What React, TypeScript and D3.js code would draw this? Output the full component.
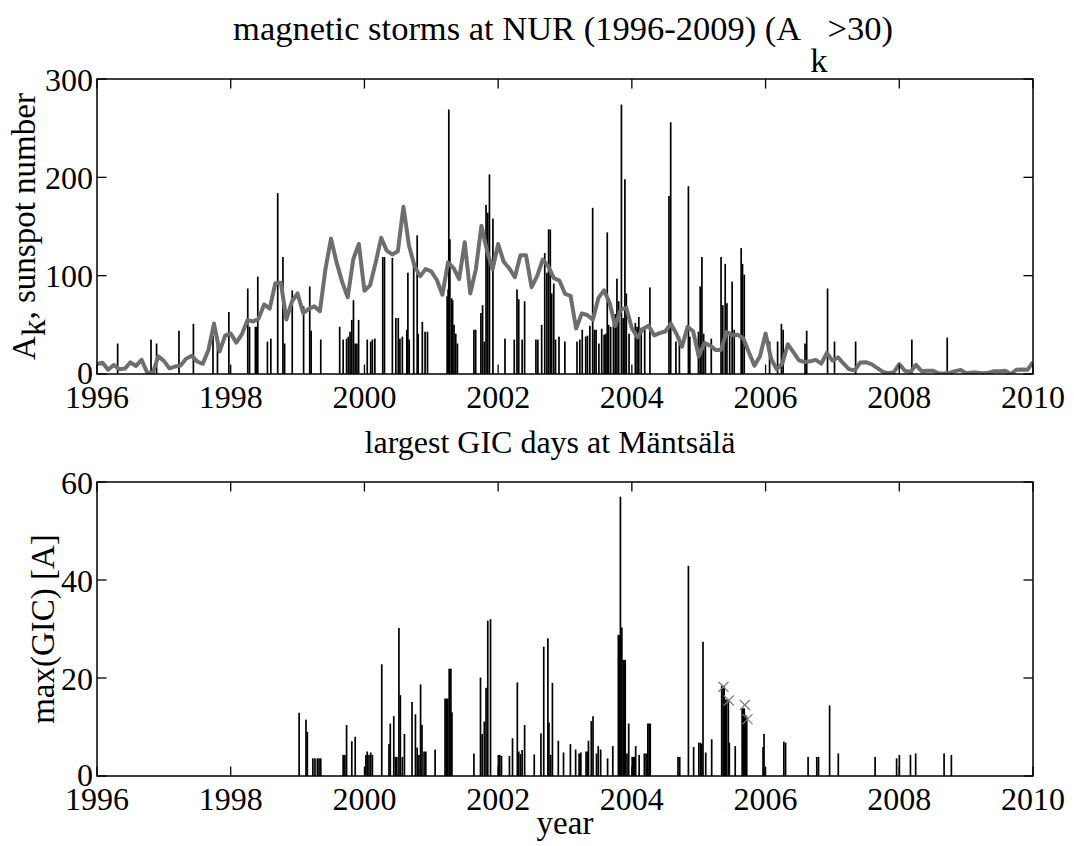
import React from "react";
import * as d3 from "d3";

const xTicks = [1996, 1998, 2000, 2002, 2004, 2006, 2008, 2010];
const akTicks = [0, 100, 200, 300];
const gicTicks = [0, 20, 40, 60];

// monthly sunspot number, first value (Dec 1995) plotted at 1996.0, one step per month
const sunspotStart = 1996;
const sunspotMonthly = [
  10.1,
  11.5, 4.4, 9.2, 4.8, 5.5, 11.8, 8.2, 14.4, 1.6, 0.9, 17.9, 13.3,
  5.7, 7.6, 8.7, 15.5, 18.5, 12.7, 10.4, 24.4, 51.3, 22.8, 39.0, 41.2,
  31.9, 40.3, 54.8, 53.4, 56.3, 70.7, 66.6, 92.2, 92.9, 55.5, 74.0, 81.9,
  62.0, 66.3, 68.8, 63.7, 106.4, 137.7, 113.5, 93.7, 78.0, 116.7, 132.2, 84.6,
  90.1, 112.9, 138.5, 125.5, 121.6, 124.9, 170.1, 130.5, 109.7, 99.4, 106.8, 104.4,
  95.6, 80.6, 113.5, 107.7, 96.6, 134.0, 81.8, 106.4, 150.7, 125.5, 106.5, 132.2,
  114.1, 107.4, 98.4, 120.7, 120.8, 88.3, 99.6, 116.4, 109.6, 97.5, 95.0, 81.6,
  79.5, 46.2, 61.5, 60.0, 55.2, 77.4, 85.0, 72.7, 48.8, 65.5, 67.3, 46.5,
  37.3, 45.8, 49.1, 39.3, 41.5, 43.2, 51.1, 40.9, 27.7, 48.0, 43.5, 17.9,
  31.3, 29.2, 24.5, 24.4, 42.6, 39.6, 39.9, 36.4, 22.1, 8.5, 18.0, 41.2,
  15.3, 4.9, 10.6, 30.2, 22.3, 13.9, 12.2, 12.9, 14.4, 10.5, 21.4, 13.6,
  16.9, 10.6, 4.8, 3.7, 11.7, 12.0, 10.0, 6.2, 2.4, 0.9, 1.7, 10.1,
  3.3, 2.1, 9.3, 2.9, 3.2, 3.4, 0.8, 0.5, 1.1, 2.9, 4.1, 0.8,
  1.5, 1.4, 0.7, 1.2, 2.9, 2.9, 3.2, 0.0, 4.2, 4.6, 4.2, 12.0,
];

// storm days (decimal year) and their Ak index
const stormDates = [
  1996.309, 1996.808, 1996.891, 1997.226, 1997.442, 1997.735, 1997.802, 1997.972,
  1998.255, 1998.281, 1998.369, 1998.384, 1998.405, 1998.549, 1998.6, 1998.703,
  1998.781, 1998.806, 1998.92, 1999.09, 1999.182, 1999.203, 1999.347,
  1999.63, 1999.682, 1999.733, 1999.759, 1999.785, 1999.811, 1999.836, 1999.862,
  1999.888, 1999.913, 2000.042, 2000.094, 2000.119, 2000.156, 2000.274, 2000.3,
  2000.418, 2000.47, 2000.506, 2000.531, 2000.567, 2000.634, 2000.65, 2000.67,
  2000.737, 2000.789, 2000.804, 2000.866, 2000.907, 2000.943,
  2001.237, 2001.252, 2001.262, 2001.278, 2001.304, 2001.319, 2001.34, 2001.366, 2001.391,
  2001.638, 2001.664, 2001.742, 2001.767, 2001.793, 2001.819, 2001.845, 2001.87, 2001.922,
  2002.102, 2002.241, 2002.282, 2002.308, 2002.359, 2002.396, 2002.565,
  2002.594, 2002.651, 2002.697, 2002.729, 2002.755, 2002.78, 2002.801, 2002.832,
  2002.858, 2002.91, 2002.998, 2003.18, 2003.222, 2003.258, 2003.31, 2003.336,
  2003.372, 2003.414, 2003.44, 2003.465, 2003.507, 2003.549, 2003.585, 2003.611,
  2003.632, 2003.652, 2003.683, 2003.725, 2003.751, 2003.777, 2003.803, 2003.844,
  2003.87, 2003.896, 2003.917, 2003.958, 2004.052, 2004.078, 2004.104, 2004.14,
  2004.192, 2004.27, 2004.555, 2004.581, 2004.659, 2004.711, 2004.846, 2004.867,
  2004.996, 2005.022, 2005.048, 2005.074, 2005.1, 2005.188, 2005.334, 2005.36,
  2005.396, 2005.422, 2005.463, 2005.5, 2005.531, 2005.635, 2005.655, 2005.681,
  2006.06, 2006.18, 2006.237, 2006.263, 2006.59, 2006.615, 2006.927, 2007.031,
  2007.347, 2008.188, 2008.717,
];
const stormAk = [
  31, 35, 31, 44, 51, 39, 38, 63,
  87, 48, 48, 48, 99, 33, 36, 184,
  119, 31, 85, 69, 89, 44, 35,
  48, 35, 36, 38, 43, 55, 75, 31,
  31, 55, 35, 33, 35, 36, 119, 119,
  118, 57, 57, 36, 38, 45, 103, 35,
  113, 141, 41, 53, 43, 43,
  79, 86, 269, 137, 77, 75, 50, 41, 31,
  45, 45, 62, 70, 33, 172, 164, 203, 158,
  36, 35, 86, 76, 35, 74, 35,
  35, 50, 123, 103, 147, 147, 82, 92,
  35, 38, 33, 33, 35, 45, 38, 39,
  49, 169, 45, 45, 31, 46, 40, 41,
  144, 50, 48, 52, 61, 97, 74, 274,
  57, 198, 82, 41, 52, 48, 58, 47,
  45, 88, 181, 256, 33, 38, 191, 38,
  43, 89, 119, 41, 33, 36, 119, 70,
  112, 72, 43, 94, 45, 128, 112, 101,
  33, 33, 51, 45, 31, 44, 87, 33,
  33, 35, 37,
];

// largest GIC days at Mäntsälä
const gicDates = [
  1999.023, 1999.126, 1999.146, 1999.229, 1999.26, 1999.296, 1999.321, 1999.347,
  1999.682, 1999.708, 1999.733, 1999.811, 1999.862, 2000.022, 2000.042, 2000.068,
  2000.094, 2000.119, 2000.259, 2000.367, 2000.387, 2000.439, 2000.464, 2000.485,
  2000.516, 2000.537, 2000.567, 2000.598, 2000.712, 2000.763, 2000.789, 2000.815,
  2000.84, 2000.861, 2000.892, 2000.918, 2001.057, 2001.206, 2001.227, 2001.247,
  2001.268, 2001.293, 2001.309, 2001.638, 2001.736, 2001.761, 2001.793, 2001.819,
  2001.845, 2001.886, 2002.004, 2002.025, 2002.05, 2002.169, 2002.215, 2002.287,
  2002.308, 2002.334, 2002.359, 2002.396, 2002.54, 2002.64, 2002.682, 2002.744,
  2002.76, 2002.786, 2002.812, 2002.9, 2002.978, 2003.081, 2003.159, 2003.211,
  2003.237, 2003.315, 2003.341, 2003.351, 2003.393, 2003.419, 2003.471, 2003.497,
  2003.533, 2003.637, 2003.715, 2003.798, 2003.819, 2003.829, 2003.85, 2003.87,
  2003.886, 2003.901, 2003.927, 2003.953, 2004.005, 2004.026, 2004.042, 2004.057,
  2004.109, 2004.187, 2004.213, 2004.239, 2004.259, 2004.275, 2004.69, 2004.716,
  2004.846, 2004.924, 2005.002, 2005.028, 2005.043, 2005.064, 2005.105, 2005.194,
  2005.344, 2005.365, 2005.381, 2005.396, 2005.417, 2005.443, 2005.458, 2005.546,
  2005.65, 2005.666, 2005.681, 2005.702, 2005.718, 2005.962, 2005.977, 2006.273,
  2006.299, 2006.636, 2006.766, 2006.792, 2006.958, 2007.088, 2007.638, 2007.96,
  2008.001, 2008.167, 2008.245, 2008.67, 2008.779,
];
const gicMax = [
  12.9, 11.5, 9.0, 3.6, 3.6, 3.6, 3.6, 3.6,
  4.3, 4.3, 10.4, 7.1, 8.0, 4.3, 5.0, 4.3,
  4.8, 4.3, 22.8, 6.5, 10.7, 12.2, 3.9, 3.9,
  30.2, 16.5, 3.9, 8.6, 15.1, 12.6, 5.8, 4.3,
  18.7, 10.4, 5.0, 5.0, 5.4, 15.8, 15.8, 15.8,
  21.9, 21.9, 13.0, 4.6, 20.1, 8.6, 11.1, 18.0,
  31.7, 32.0, 4.3, 4.3, 4.1, 4.1, 7.7, 19.1,
  5.0, 4.5, 5.3, 10.4, 4.4, 8.7, 26.4, 28.1,
  10.9, 4.3, 19.0, 7.2, 4.8, 6.5, 5.4, 4.6,
  4.8, 5.0, 5.0, 7.2, 11.2, 12.2, 4.6, 6.1,
  5.4, 3.6, 6.1, 28.8, 28.8, 57.0, 30.3, 23.7,
  23.7, 23.7, 4.6, 10.7, 3.9, 3.9, 3.9, 6.1,
  4.3, 4.6, 4.6, 10.7, 10.7, 10.7, 3.9, 3.9,
  42.9, 5.9, 6.8, 6.8, 6.5, 27.4, 4.8, 7.5,
  18.4, 18.4, 18.4, 15.6, 15.6, 15.6, 6.8, 6.1,
  13.8, 13.8, 13.8, 12.4, 12.1, 5.9, 8.6, 7.0,
  6.8, 3.9, 3.9, 3.9, 14.4, 4.6, 3.9, 3.6,
  4.3, 4.3, 4.6, 4.6, 4.3,
];

// marked days (crosses)
const crossDates = [2005.37, 2005.45, 2005.69, 2005.73];
const crossValues = [18.2, 15.4, 14.5, 11.6];

const FONT = "'Liberation Serif', 'Times New Roman', serif";

export default function App() {
  const W = 1074, H = 846;
  const L = 97, R = 1033;
  const t1 = 79, b1 = 374, t2 = 482, b2 = 776;
  const TL = 9.5;
  const x = d3.scaleLinear().domain([1996, 2010]).range([L, R]);
  const y1 = d3.scaleLinear().domain([0, 300]).range([b1, t1]);
  const y2 = d3.scaleLinear().domain([0, 60]).range([b2, t2]);
  const line = d3
    .line<number>()
    .x((_, i) => x(sunspotStart + i / 12))
    .y((d) => y1(d));
  const bw = 1.7;

  const axisBox = (top: number, bot: number, yScale: any, ticks: number[]) => (
    <g>
      {xTicks.map((t) => (
        <g key={"x" + t}>
          <line x1={x(t)} x2={x(t)} y1={bot} y2={bot - TL} stroke="#000" strokeWidth={1.3} />
          <line x1={x(t)} x2={x(t)} y1={top} y2={top + TL} stroke="#000" strokeWidth={1.3} />
          <text x={x(t)} y={bot + 33.5} textAnchor="middle" fontSize={32} fontFamily={FONT}>
            {t}
          </text>
        </g>
      ))}
      {ticks.map((t) => (
        <g key={"y" + t}>
          <line x1={L} x2={L + TL} y1={yScale(t)} y2={yScale(t)} stroke="#000" strokeWidth={1.3} />
          <line x1={R} x2={R - TL} y1={yScale(t)} y2={yScale(t)} stroke="#000" strokeWidth={1.3} />
          <text x={93} y={yScale(t)} dy={t === 0 ? "0.3em" : "0.36em"} textAnchor="end" fontSize={32} fontFamily={FONT}>
            {t}
          </text>
        </g>
      ))}
      <rect x={L} y={top} width={R - L} height={bot - top} fill="none" stroke="#000" strokeWidth={1.5} />
    </g>
  );

  return (
    <svg
      width={W}
      height={H}
      style={{ position: "absolute", left: 0, top: 0, background: "#fff" }}
    >
      <rect x={0} y={0} width={W} height={H} fill="#fff" />
      <defs>
        <clipPath id="c1">
          <rect x={L} y={t1} width={R - L} height={b1 - t1} />
        </clipPath>
      </defs>

      {/* top panel */}
      <g>
        {stormDates.map((d, i) => (
          <rect
            key={i}
            x={x(d) - bw / 2}
            y={y1(stormAk[i])}
            width={bw}
            height={b1 - y1(stormAk[i])}
            fill="#000"
          />
        ))}
      </g>
      <path
        d={line(sunspotMonthly) || ""}
        fill="none"
        stroke="#6e6e6e"
        strokeWidth={4}
        strokeLinejoin="round"
        clipPath="url(#c1)"
      />
      {axisBox(t1, b1, y1, akTicks)}

      {/* bottom panel */}
      <g>
        {gicDates.map((d, i) => (
          <rect
            key={i}
            x={x(d) - bw / 2}
            y={y2(gicMax[i])}
            width={bw}
            height={b2 - y2(gicMax[i])}
            fill="#000"
          />
        ))}
      </g>
      <g stroke="#808080" strokeWidth={1.3}>
        {crossDates.map((d, i) => {
          const cx = x(d), cy = y2(crossValues[i]), s = 5;
          return (
            <g key={i}>
              <line x1={cx - s} y1={cy - s} x2={cx + s} y2={cy + s} />
              <line x1={cx - s} y1={cy + s} x2={cx + s} y2={cy - s} />
            </g>
          );
        })}
      </g>
      {axisBox(t2, b2, y2, gicTicks)}

      {/* titles and labels */}
      <text x={563} y={40} textAnchor="middle" fontSize={34.5} fontFamily={FONT}>
        magnetic storms at NUR (1996-2009) (A
        <tspan dx={9} dy={32}>k</tspan>
        <tspan dy={-32}>&gt;30)</tspan>
      </text>
      <text x={550} y={453} textAnchor="middle" fontSize={32} fontFamily={FONT}>
        largest GIC days at Mäntsälä
      </text>
      <text x={565} y={834} textAnchor="middle" fontSize={33} fontFamily={FONT}>
        year
      </text>
      <text
        transform={`translate(35,${(t1 + b1) / 2}) rotate(-90)`}
        textAnchor="middle"
        fontSize={33}
        fontFamily={FONT}
      >
        A<tspan dy={10}>k</tspan>
        <tspan dy={-10}>, sunspot number</tspan>
      </text>
      <text
        transform={`translate(54,${(t2 + b2) / 2}) rotate(-90)`}
        textAnchor="middle"
        fontSize={33}
        fontFamily={FONT}
      >
        max(GIC) [A]
      </text>
    </svg>
  );
}
